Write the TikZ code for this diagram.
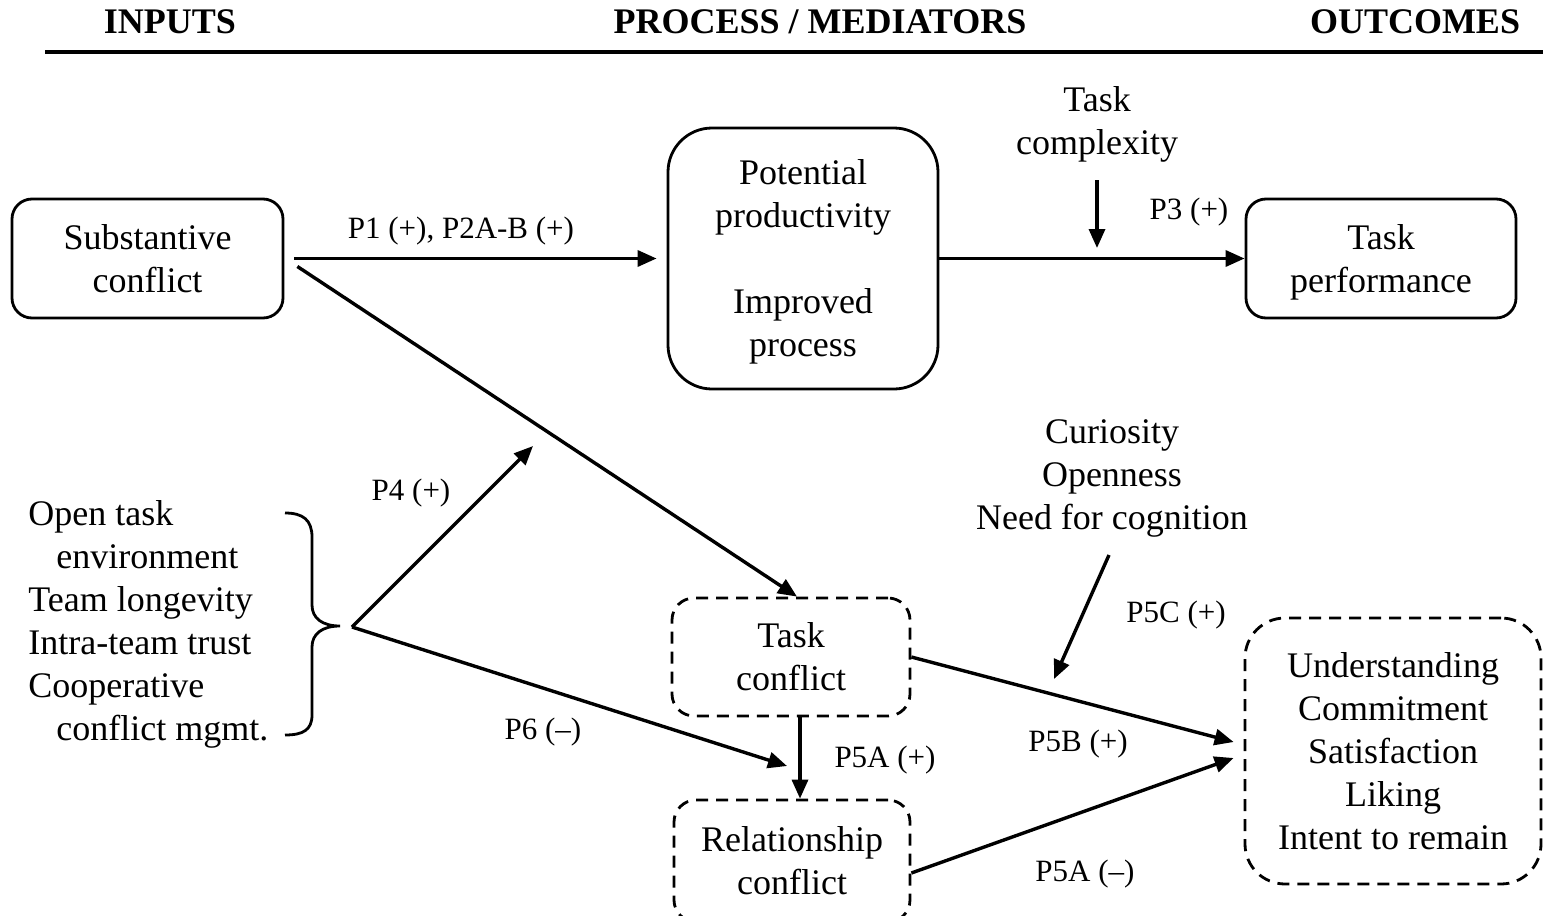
\documentclass[tikz,border=0pt]{standalone}
\usepackage{fontspec}
\setmainfont{Liberation Serif}
\usetikzlibrary{arrows.meta}
\begin{document}
\begin{tikzpicture}[x=0.5pt,y=-0.5pt,
 main/.style={font=\fontsize{18}{21.5}\selectfont, align=center, inner sep=0},
 lbl/.style={font=\fontsize{15.5}{18}\selectfont, inner sep=0, yshift=-1.5pt},
 box/.style={draw, line width=1.4pt, rounded corners=10pt, main},
 dbox/.style={box, dash pattern=on 6pt off 4pt},
 arr/.style={line width=1.7pt, -{Triangle[length=9.5pt,width=8pt]}},
 hdr/.style={font=\fontsize{18}{21.5}\selectfont\bfseries, inner sep=0}]
\useasboundingbox (0,0) rectangle (1543,916);
\clip (0,0) rectangle (1543,916);

% headers
\node[hdr] (h1) at (170,22) {INPUTS};
\node[hdr] (h2) at (820,22) {PROCESS / MEDIATORS};
\node[hdr] (h3) at (1415,22) {OUTCOMES};
\draw[line width=1.6pt] (45,52) -- (1543,52);

% boxes
\node[box, minimum width=135.5pt, minimum height=59.5pt] (sub) at (147.5,258.5) {Substantive\\conflict};
\node[box, rounded corners=22pt, minimum width=135pt, minimum height=130.5pt] (pot) at (803,258.5) {Potential\\productivity\\[21.5pt]Improved\\\smash{process}};
\node[box, minimum width=135pt, minimum height=59.5pt] (tp) at (1381,258.5) {Task\\\smash{performance}};
\node[dbox, rounded corners=11pt, minimum width=119pt, minimum height=59pt] (tc) at (791,657) {Task\\conflict};
\node[dbox, rounded corners=11pt, minimum width=118pt, minimum height=61pt] (rc) at (792,861) {Relationship\\conflict};
\node[dbox, rounded corners=20pt, minimum width=148pt, minimum height=133pt] (out) at (1393,751) {Understanding\\Commitment\\Satisfaction\\Liking\\Intent to remain};

% free text
\node[main] (cx) at (1097,121) {Task\\\smash{complexity}};
\node[main] (cur) at (1112,475) {Curiosity\\Openness\\\smash{Need for cognition}};
\node[main, align=left, anchor=west] (inp) at (28,620.5) {Open task\\\hspace*{14pt}environment\\Team longevity\\Intra-team trust\\Cooperative\\\hspace*{14pt}\smash{conflict mgmt.}};

% brace
\draw[line width=1.4pt] (285,513) .. controls (303,513) and (312,520) .. (312,537) -- (312,605) .. controls (312,618) and (322,626) .. (340,626) .. controls (322,626) and (312,634) .. (312,647) -- (312,715) .. controls (312,730) and (303,735) .. (285,735);

% coordinates for free ends
\coordinate (apex) at (352,627);
\coordinate (p4e) at (533,446);
\coordinate (p6e) at (787,766);
\coordinate (cxs) at (1097,180);
\coordinate (cxe) at (1097,248);
\coordinate (curs) at (1109,555);
\coordinate (cure) at (1054,679);

% arrows
\draw[arr, shorten <=5pt, shorten >=5pt] (sub.east) -- (pot.west);
\draw[arr] ([shift={(13,8)}]sub.east) -- ([xshift=3pt]tc.north);
\draw[arr] (pot.east) -- (tp.west);
\draw[arr] (cxs) -- (cxe);
\draw[arr] (apex) -- (p4e);
\draw[arr] (apex) -- (p6e);
\draw[arr] ([xshift=4.5pt]tc.south) -- ([xshift=4pt]rc.north);
\draw[arr] (tc.east) -- ([shift={(-10,-9)}]out.west);
\draw[arr] ([shift={(0,12)}]rc.east) -- ([shift={(-10,7)}]out.west);
\draw[arr] (curs) -- (cure);

% labels
\node[lbl] (l1) at (461,228) {P1 (+), P2A-B (+)};
\node[lbl] (l2) at (1189,209) {P3 (+)};
\node[lbl] (l3) at (411,490) {P4 (+)};
\node[lbl] (l4) at (543,729) {P6 (–)};
\node[lbl] (l5) at (885,757) {P5A (+)};
\node[lbl] (l6) at (1078,741) {P5B (+)};
\node[lbl] (l7) at (1085,871) {P5A (–)};
\node[lbl] (l8) at (1176,612) {P5C (+)};
\end{tikzpicture}
\end{document}
